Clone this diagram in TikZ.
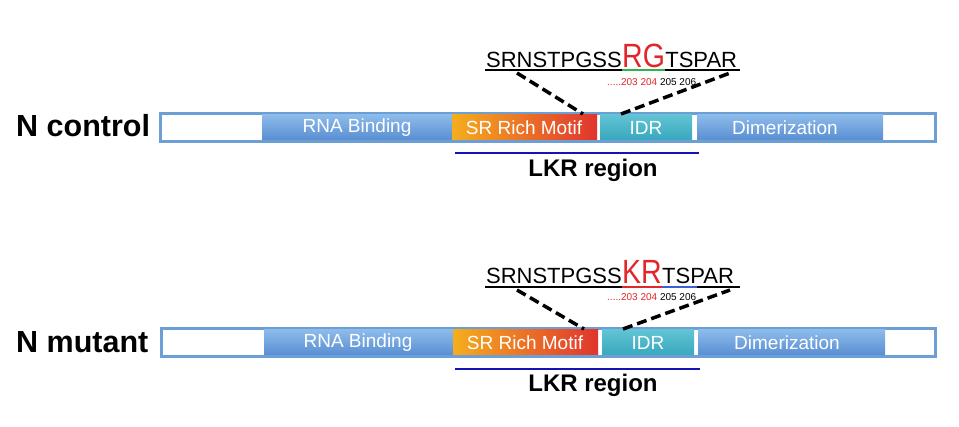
\documentclass[tikz,border=0pt]{standalone}
\usepackage{fontspec}
\setmainfont{Liberation Sans}
\definecolor{barblueT}{HTML}{8DBBEA}
\definecolor{barblueB}{HTML}{5A8FD2}
\definecolor{srorange}{HTML}{F5AD1E}
\definecolor{srred}{HTML}{E0352E}
\definecolor{idrT}{HTML}{62C4D4}
\definecolor{idrB}{HTML}{3AA8BE}
\definecolor{framecol}{HTML}{6C9FD6}
\definecolor{lkrblue}{HTML}{1414B4}
\definecolor{seqred}{HTML}{E3262A}
\definecolor{seqgreen}{HTML}{2DB34A}
\definecolor{seqblue}{HTML}{3A5FD8}
\tikzset{
  rowlabel/.style={anchor=west,inner sep=0pt,font=\fontsize{30.5}{30.5}\selectfont\bfseries},
  segtext/.style={inner sep=0pt,text=white,font=\fontsize{19}{19}\selectfont},
  seqtext/.style={inner sep=0pt,font=\fontsize{22}{22}\selectfont},
  bigres/.style={inner sep=0pt,text=seqred,font=\fontsize{30}{30}\selectfont},
  numtext/.style={inner sep=0pt,anchor=base west,font=\fontsize{10}{10}\selectfont},
  lkrtext/.style={inner sep=0pt,font=\fontsize{24}{24}\selectfont\bfseries},
  framebox/.style={draw=framecol,line width=3pt,fill=white},
  bluebar/.style={top color=barblueT,bottom color=barblueB},
  srbar/.style={left color=srorange,right color=srred},
  idrbar/.style={top color=idrT,bottom color=idrB},
  dashline/.style={line width=3.5pt,dash pattern=on 10pt off 5pt},
  lkrline/.style={draw=lkrblue,line width=2.5pt},
}
\begin{document}
\begin{tikzpicture}[x=1pt,y=-1pt]
\useasboundingbox (0,0) rectangle (959,426);
\fill[white] (0,0) rectangle (959,426);

% ---------- control row ----------
\node[rowlabel] (lab1) at (16,126) {N control};
\draw[framebox] (160,113) rectangle (935,141);
\shade[bluebar] (262,114.5) rectangle (452,139.5);
\shade[srbar] (452,114.5) rectangle (597,139.5);
\shade[idrbar] (600,114.5) rectangle (692,139.5);
\shade[bluebar] (697,114.5) rectangle (883,139.5);
\node[segtext] (rna1) at (357,128) {RNA Binding};
\node[segtext] (sr1) at (524,128) {SR Rich Motif};
\node[segtext] (idr1) at (646,128) {IDR};
\node[segtext] (dim1) at (785,128) {Dimerization};
\draw[lkrline] (455,153) -- (699,153);
\node[lkrtext] (lkr1) at (593,170) {LKR region};

\node[seqtext,anchor=base east] (s1a) at (622,67) {SRNSTPGSS};
\node[bigres,anchor=base west] (s1b) at (s1a.base east) {\scalebox{0.95}[1.12]{RG}};
\node[seqtext,anchor=base west] (s1c) at (s1b.base east) {TSPAR};
\draw[line width=2pt] (485,70) -- (740,70);
\draw[seqgreen,line width=2pt] (s1b.west |- 0,70) -- (s1b.east |- 0,70);
\node[numtext] (num1) at (607,85) {\textcolor{seqred}{.....203 204} 205 206};
\coordinate (a1) at (517,73);
\coordinate (b1) at (583,114);
\coordinate (c1) at (621,114);
\coordinate (d1) at (730,73);
\draw[dashline] (a1) -- (b1);
\draw[dashline] (c1) -- (d1);

% ---------- mutant row ----------
\node[rowlabel] (lab2) at (16,342) {N mutant};
\draw[framebox] (161,328) rectangle (935,356);
\shade[bluebar] (264,329.5) rectangle (453,354.5);
\shade[srbar] (453,329.5) rectangle (598,354.5);
\shade[idrbar] (602,329.5) rectangle (694,354.5);
\shade[bluebar] (698,329.5) rectangle (885,354.5);
\node[segtext] (rna2) at (358,343) {RNA Binding};
\node[segtext] (sr2) at (525,343) {SR Rich Motif};
\node[segtext] (idr2) at (648,343) {IDR};
\node[segtext] (dim2) at (787,343) {Dimerization};
\draw[lkrline] (455,369) -- (700,369);
\node[lkrtext] (lkr2) at (593,385) {LKR region};

\node[seqtext,anchor=base east] (s2a) at (622,283) {SRNSTPGSS};
\node[bigres,anchor=base west] (s2b) at (s2a.base east) {\scalebox{0.95}[1.12]{KR}};
\node[seqtext,anchor=base west] (s2c) at (s2b.base east) {TSPAR};
\draw[line width=2pt] (485,287) -- (740,287);
\draw[seqred,line width=2pt] (s2b.west |- 0,287) -- (s2b.east |- 0,287);
\draw[seqblue,line width=2pt] (s2b.east |- 0,287) -- (697,287);
\node[numtext] (num2) at (607,300) {\textcolor{seqred}{.....203 204} 205 206};
\coordinate (a2) at (517,290);
\coordinate (b2) at (584,329);
\coordinate (c2) at (623,329);
\coordinate (d2) at (730,290);
\draw[dashline] (a2) -- (b2);
\draw[dashline] (c2) -- (d2);
\end{tikzpicture}
\end{document}
